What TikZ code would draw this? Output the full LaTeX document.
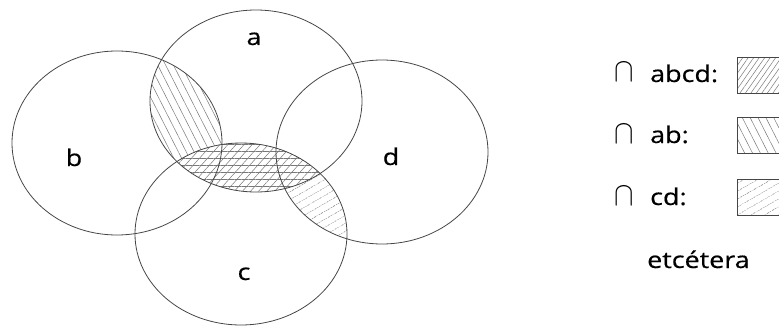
\documentclass[tikz,border=0pt]{standalone}
\usepackage{fontspec}
\setmainfont{Open Sans}[FakeBold=0.4]
\usepackage{graphicx}
\usetikzlibrary{patterns.meta,positioning}
\definecolor{trazo}{RGB}{70,70,70}
\definecolor{rayado}{RGB}{120,120,120}
\newcommand{\ancho}[1]{\scalebox{1.17}[1]{#1}}
\newcommand{\interseccion}{\scalebox{1.17}[1.35]{$\cap$}}
% los cuatro conjuntos
\def\conjA{(256,101) ellipse [x radius=106, y radius=91]}
\def\conjB{(117,143) ellipse [x radius=105, y radius=92]}
\def\conjC{(241,234) ellipse [x radius=106, y radius=91]}
\def\conjD{(382,152) ellipse [x radius=106, y radius=92]}

\begin{document}
\begin{tikzpicture}[x=1pt,y=-1pt,
    etiqueta/.style={font=\fontsize{23}{27}\selectfont, inner sep=0pt, anchor=base},
    contorno/.style={draw=trazo, line width=0.8pt},
    rayaAbcd/.style={pattern={Lines[angle=55,distance=4.5pt,line width=0.5pt]}, pattern color=rayado},
    rayaAB/.style={pattern={Lines[angle=-63,distance=7pt,line width=0.5pt]}, pattern color=rayado},
    rayaCD/.style={pattern={Lines[angle=30,distance=6.5pt,line width=0.5pt]}, pattern color=rayado},
    rayaH/.style={pattern={Lines[angle=0,distance=7pt,line width=0.5pt]}, pattern color=rayado},
    caja/.style={draw=trazo, line width=0.8pt, minimum width=70pt, minimum height=36pt, anchor=north west}]
    \clip (0,0) rectangle (779,326);

    % interseccion ab
    \begin{scope}
        \clip \conjA;
        \fill[rayaAB] \conjB;
    \end{scope}
    % interseccion cd
    \begin{scope}
        \clip \conjC;
        \fill[rayaCD] \conjD;
    \end{scope}
    % interseccion central
    \begin{scope}
        \clip \conjA;
        \fill[white] \conjC;
        \fill[rayaAbcd, pattern={Lines[angle=48,distance=6pt,line width=0.5pt]}] \conjC;
        \fill[rayaH] \conjC;
    \end{scope}

    % contornos
    \foreach \conj in {\conjA,\conjB,\conjC,\conjD}
        \draw[contorno] \conj;

    \node[etiqueta] (labA) at (254,45) {\ancho{a}};
    \node[etiqueta] (labB) at (74,166) {\ancho{b}};
    \node[etiqueta] (labC) at (244,280) {\ancho{c}};
    \node[etiqueta] (labD) at (391,165) {\ancho{d}};

    % leyenda
    \node[etiqueta, anchor=base west] (capAbcd) at (614,82) {\interseccion};
    \node[etiqueta, anchor=base west] (txtAbcd) at (650,82) {\ancho{abcd:}};
    \node[caja, rayaAbcd] (cajaAbcd) at (737,57) {};

    \node[etiqueta, anchor=base west] (capAB) at (614,143) {\interseccion};
    \node[etiqueta, anchor=base west] (txtAB) at (650,143) {\ancho{ab:}};
    \node[caja, rayaAB] (cajaAB) at (737,117) {};

    \node[etiqueta, anchor=base west] (capCD) at (614,205) {\interseccion};
    \node[etiqueta, anchor=base west] (txtCD) at (650,205) {\ancho{cd:}};
    \node[caja, rayaCD] (cajaCD) at (737,179) {};

    \node[etiqueta, anchor=base west] (txtEtc) at (647,268) {\ancho{etcétera}};
\end{tikzpicture}
\end{document}
